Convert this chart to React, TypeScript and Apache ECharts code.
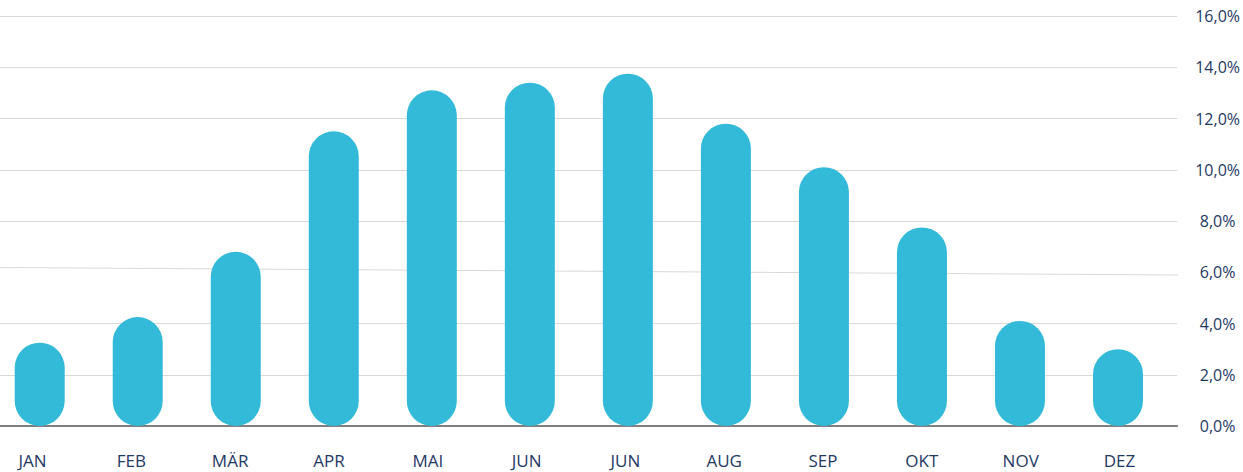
import React, { useEffect, useRef } from "react";
import * as echarts from "echarts";

const months = ["JAN", "FEB", "MÄR", "APR", "MAI", "JUN", "JUN", "AUG", "SEP", "OKT", "NOV", "DEZ"];
const shares = [3.25, 4.25, 6.8, 11.5, 13.1, 13.4, 13.75, 11.8, 10.1, 7.75, 4.1, 3.0];
const yMin = 0;
const yMax = 16;
const yStep = 2;

const FONT = "'Open Sans', 'Noto Sans', sans-serif";
const TEXT = "#1f3864";
const GRID = "#d9d9d9";
const BAR = "#33bad8";

export default function App() {
  const ref = useRef<HTMLDivElement>(null);
  useEffect(() => {
    if (!ref.current) return;
    const chart = echarts.init(ref.current, null, { renderer: "svg" });
    const splitColors = [GRID, GRID, GRID, "rgba(0,0,0,0)", GRID, GRID, GRID, GRID, GRID];
    chart.setOption({
      animation: false,
      backgroundColor: "#ffffff",
      textStyle: { fontFamily: FONT },
      grid: [
        { left: 0, right: 65, top: 16, bottom: 46 },
        { left: 39.7, right: 125, top: 16, bottom: 46 },
        { left: 32.5, right: 123.5, top: 16, bottom: 46 },
      ],
      xAxis: [
        {
          type: "category",
          gridIndex: 0,
          data: months,
          axisLine: { show: true, lineStyle: { color: "#7f7f7f", width: 2 } },
          axisTick: { show: false },
          axisLabel: { show: false },
          splitLine: { show: false },
        },
        {
          type: "category",
          gridIndex: 1,
          data: months,
          boundaryGap: false,
          show: false,
        },
        {
          type: "category",
          gridIndex: 2,
          data: months,
          boundaryGap: false,
          axisLine: { show: false },
          axisTick: { show: false },
          axisLabel: { color: TEXT, fontSize: 17, fontFamily: FONT, margin: 26 },
        },
      ],
      yAxis: [
        {
          type: "value",
          gridIndex: 0,
          position: "right",
          min: yMin,
          max: yMax,
          interval: yStep,
          axisLine: { show: false },
          axisTick: { show: false },
          axisLabel: {
            color: TEXT,
            fontSize: 16,
            fontFamily: FONT,
            align: "center",
            margin: 40.5,
            formatter: (v: number) => v.toFixed(1).replace(".", ",") + "%",
          },
          splitLine: { show: true, lineStyle: { color: splitColors, width: 1 } },
        },
        { type: "value", gridIndex: 1, min: yMin, max: yMax, interval: yStep, show: false },
        { type: "value", gridIndex: 2, min: yMin, max: yMax, interval: yStep, show: false },
      ],
      graphic: [
        {
          type: "line",
          z: 1,
          shape: { x1: 0, y1: 267.5, x2: 1178, y2: 275 },
          style: { stroke: GRID, lineWidth: 1 },
        },
      ],
      series: [
        {
          type: "bar",
          xAxisIndex: 1,
          yAxisIndex: 1,
          data: shares,
          barWidth: 50,
          z: 5,
          itemStyle: { color: BAR, borderRadius: 25 },
        },
      ],
    });
    return () => chart.dispose();
  }, []);
  return (
    <div
      ref={ref}
      style={{ position: "fixed", left: 0, top: 0, width: 1243, height: 472 }}
    />
  );
}
